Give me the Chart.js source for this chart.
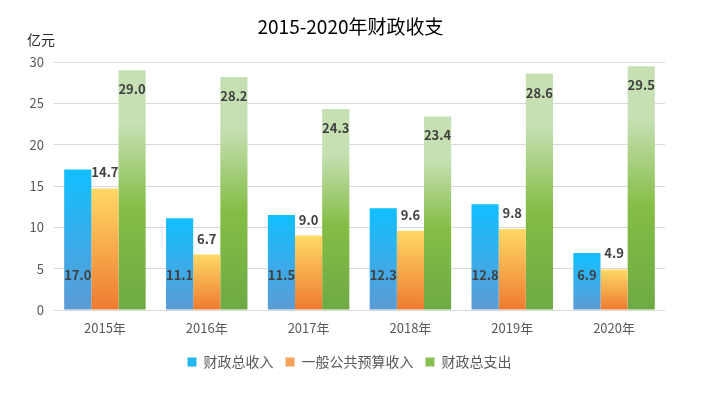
<!DOCTYPE html>
<html>
<head>
<meta charset="utf-8">
<script src="https://cdn.jsdelivr.net/npm/chart.js@4"></script>
<style>
html,body{margin:0;padding:0;background:#fff;}
#wrap{width:705px;height:417px;}
</style>
</head>
<body>
<div id="wrap"><canvas id="c" width="705" height="417"></canvas></div>
<script>
const categories = ['2015年','2016年','2017年','2018年','2019年','2020年'];
const seriesNames = ['财政总收入','一般公共预算收入','财政总支出'];
const totalRevenue = [17.0, 11.1, 11.5, 12.3, 12.8, 6.9];
const budgetRevenue = [14.7, 6.7, 9.0, 9.6, 9.8, 4.9];
const totalExpense = [29.0, 28.2, 24.3, 23.4, 28.6, 29.5];
const yTicks = [0, 5, 10, 15, 20, 25, 30];
const titleText = '2015-2020年财政收支';
const unitText = '亿元';

const FONT = '"Noto Sans CJK SC", "Noto Sans", sans-serif';

const gradStops = [
  [[0,'#12BFFF'],[1,'#5D9BD5']],
  [[0,'#FFD966'],[1,'#EE7A30']],
  [[0,'#C6E0B4'],[0.22,'#C6E0B4'],[0.58,'#84BD45'],[1,'#6DAA44']]
];
const legendColors = ['#22B6F4','#F4A25A','#88C050'];

function barGradient(ctx, i) {
  const chart = ctx.chart;
  const ys = chart.scales.y;
  if (!chart.chartArea || !ys || ctx.raw === undefined) return legendColors[i];
  const top = ys.getPixelForValue(ctx.raw);
  const bottom = ys.getPixelForValue(0);
  const g = chart.ctx.createLinearGradient(0, top, 0, bottom);
  gradStops[i].forEach(s => g.addColorStop(s[0], s[1]));
  return g;
}

const labelPlugin = {
  id: 'labels',
  afterDatasetsDraw(chart) {
    const c = chart.ctx;
    c.save();
    c.font = 'bold 13px ' + FONT;
    c.fillStyle = '#404040';
    c.textAlign = 'center';
    c.textBaseline = 'middle';
    chart.data.datasets.forEach((ds, di) => {
      const meta = chart.getDatasetMeta(di);
      meta.data.forEach((bar, k) => {
        const txt = ds.data[k].toFixed(1);
        let y;
        if (di === 0) y = bar.base - 34;
        else if (di === 1) y = bar.y - 16;
        else y = bar.y + 19;
        c.fillText(txt, bar.x, y);
      });
    });
    c.restore();
  }
};

const legendShift = {
  id: 'legendShift',
  afterLayout(chart) {
    const lg = chart.legend;
    if (lg) { lg.left += 17; lg.right += 17; }
  }
};

const textPlugin = {
  id: 'texts',
  afterDraw(chart) {
    const c = chart.ctx;
    c.save();
    c.fillStyle = '#000000';
    c.textBaseline = 'middle';
    c.textAlign = 'center';
    c.font = '19px ' + FONT;
    c.fillText(titleText, (chart.chartArea.left + chart.chartArea.right) / 2 - 9, 27);
    c.textAlign = 'left';
    c.font = '14px ' + FONT;
    c.fillStyle = '#262626';
    c.fillText(unitText, 27, 40);
    c.restore();
  }
};

new Chart(document.getElementById('c'), {
  type: 'bar',
  data: {
    labels: categories,
    datasets: [
      { label: seriesNames[0], data: totalRevenue, backgroundColor: ctx => barGradient(ctx, 0) },
      { label: seriesNames[1], data: budgetRevenue, backgroundColor: ctx => barGradient(ctx, 1) },
      { label: seriesNames[2], data: totalExpense, backgroundColor: ctx => barGradient(ctx, 2) }
    ]
  },
  options: {
    responsive: false,
    animation: false,
    devicePixelRatio: 1,
    layout: { padding: { left: 0, right: 40, top: 62, bottom: 38 } },
    datasets: { bar: { categoryPercentage: 0.8, barPercentage: 1.0, borderWidth: 0 } },
    scales: {
      x: {
        grid: { display: false },
        border: { display: false },
        ticks: { color: '#595959', font: { family: FONT, size: 13 }, padding: 2 },
        afterFit(s) { s.height = 33; }
      },
      y: {
        min: 0, max: 30,
        afterBuildTicks(s) { s.ticks = yTicks.map(v => ({ value: v })); },
        grid: { color: '#D9D9D9', drawTicks: false, lineWidth: 1 },
        border: { display: false },
        ticks: { color: '#595959', font: { family: FONT, size: 13 }, padding: 10 },
        afterFit(s) { s.width = 54; }
      }
    },
    plugins: {
      title: { display: false },
      tooltip: { enabled: false },
      legend: {
        position: 'bottom',
        labels: {
          boxWidth: 9, boxHeight: 9,
          padding: 12,
          color: '#595959',
          font: { family: FONT, size: 14 },
          generateLabels(chart) {
            return chart.data.datasets.map((ds, i) => ({
              text: ds.label, fillStyle: legendColors[i], strokeStyle: legendColors[i],
              lineWidth: 0, hidden: false, datasetIndex: i, fontColor: '#595959'
            }));
          }
        }
      }
    }
  },
  plugins: [labelPlugin, textPlugin, legendShift]
});
</script>
</body>
</html>
